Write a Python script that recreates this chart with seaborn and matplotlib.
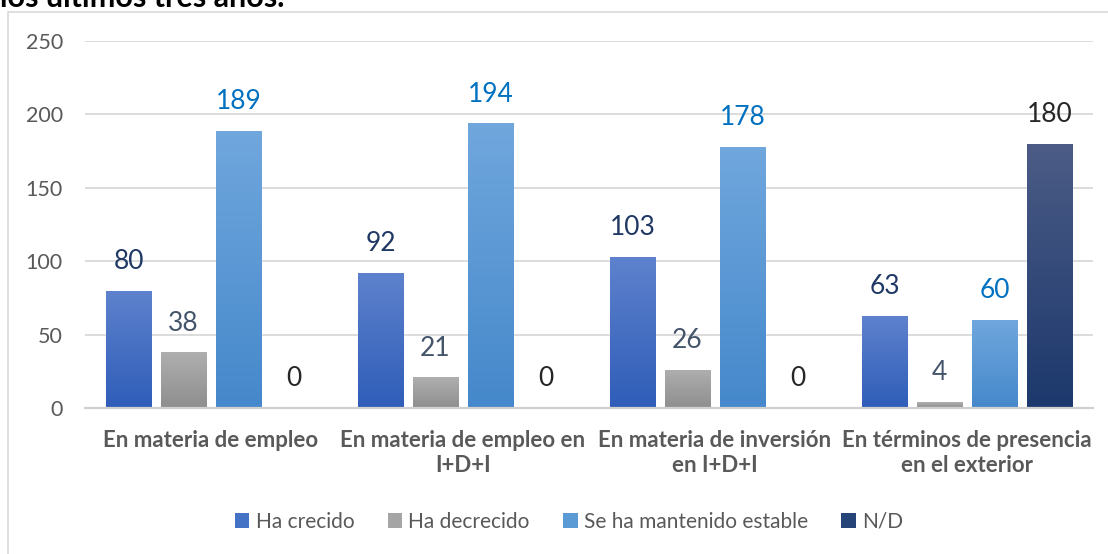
import numpy as np
import pandas as pd
import matplotlib.pyplot as plt
import seaborn as sns
from matplotlib.patches import Patch, Rectangle
from matplotlib.colors import to_rgb

# ============================================================
# Data
# ============================================================

categories = [
    "En materia de empleo",
    "En materia de empleo en\nI+D+I",
    "En materia de inversión\nen I+D+I",
    "En términos de presencia\nen el exterior",
]
series = ["Ha crecido", "Ha decrecido", "Se ha mantenido estable", "N/D"]

ha_crecido = [80, 92, 103, 63]
ha_decrecido = [38, 21, 26, 4]
estable = [189, 194, 178, 60]
no_data = [0, 0, 0, 180]

# ============================================================
# Style
# ============================================================

solid_colors = ["#4472C4", "#A5A5A5", "#5B9BD5", "#264478"]
grad_colors = [
    ("#5E82CD", "#2F5DB8"),
    ("#AFAFAF", "#8E8E8E"),
    ("#70A7DD", "#4588CB"),
    ("#4C5C86", "#1C386C"),
]
label_colors = ["#1F3864", "#44546A", "#0070C0", "#262626"]

sns.set_style("white")
plt.rcParams["font.family"] = ["Lato", "DejaVu Sans"]

df = pd.DataFrame({
    "categoria": categories * 4,
    "serie": [s for s in series for _ in categories],
    "valor": ha_crecido + ha_decrecido + estable + no_data,
})

fig = plt.figure(figsize=(11.08, 5.54), dpi=100)
ax = fig.add_axes([85 / 1108, 1 - 408 / 554, 1008 / 1108, 367 / 554])

sns.barplot(
    data=df,
    x="categoria",
    y="valor",
    hue="serie",
    hue_order=series,
    order=categories,
    palette=solid_colors,
    width=0.873,
    gap=0.18,
    legend=False,
    ax=ax,
)

# gradient fill, clipped to each bar
for cont, (top, bot) in zip(ax.containers, grad_colors):
    grad = np.linspace(0, 1, 256)[:, None, None]
    img = (1 - grad) * np.array(to_rgb(top)) + grad * np.array(to_rgb(bot))
    for bar in cont:
        h = bar.get_height()
        if h <= 0:
            continue
        x0 = bar.get_x()
        w = bar.get_width()
        im = ax.imshow(
            img, extent=(x0, x0 + w, 0, h), aspect="auto",
            origin="upper", zorder=bar.get_zorder() + 0.1,
        )
        im.set_clip_path(bar)

for cont, col in zip(ax.containers, label_colors):
    ax.bar_label(cont, padding=12, color=col, fontsize=19)

ax.set_xlim(-0.5, 3.5)
ax.set_ylim(0, 250)
ax.set_yticks([0, 50, 100, 150, 200, 250])
ax.set_xlabel("")
ax.set_ylabel("")

ax.yaxis.grid(True, color="#D9D9D9", linewidth=1.3)
ax.set_axisbelow(True)
for side in ["top", "right", "left"]:
    ax.spines[side].set_visible(False)
ax.spines["bottom"].set_color("#D0D0D0")
ax.spines["bottom"].set_linewidth(1.6)

ax.tick_params(axis="y", length=0, pad=16, labelsize=15.5, labelcolor="#595959")
ax.tick_params(axis="x", length=0, pad=16, labelcolor="#595959")
for lbl in ax.get_xticklabels():
    lbl.set_fontsize(16)
    lbl.set_fontweight("bold")
    lbl.set_linespacing(1.25)

# legend
handles = [Patch(facecolor=c, edgecolor="none") for c in solid_colors]
fig.legend(
    handles, series, loc="center", bbox_to_anchor=(569 / 1108, 1 - 522 / 554),
    ncol=4, frameon=False, fontsize=15, labelcolor="#595959",
    handlelength=0.7, handleheight=0.7, handletextpad=0.3, columnspacing=1.6,
)

# chart frame and cropped title
fig.add_artist(Rectangle(
    (8 / 1108, -0.1), 1.2, (554 - 12) / 554 + 0.1, transform=fig.transFigure,
    fill=False, edgecolor="#D9D9D9", linewidth=1.2,
))
fig.text(0.0, 1 - 7 / 554, "los últimos tres años.", fontsize=22,
         fontweight="bold", color="black", ha="left", va="baseline")

fig.savefig("out.png", dpi=100)
